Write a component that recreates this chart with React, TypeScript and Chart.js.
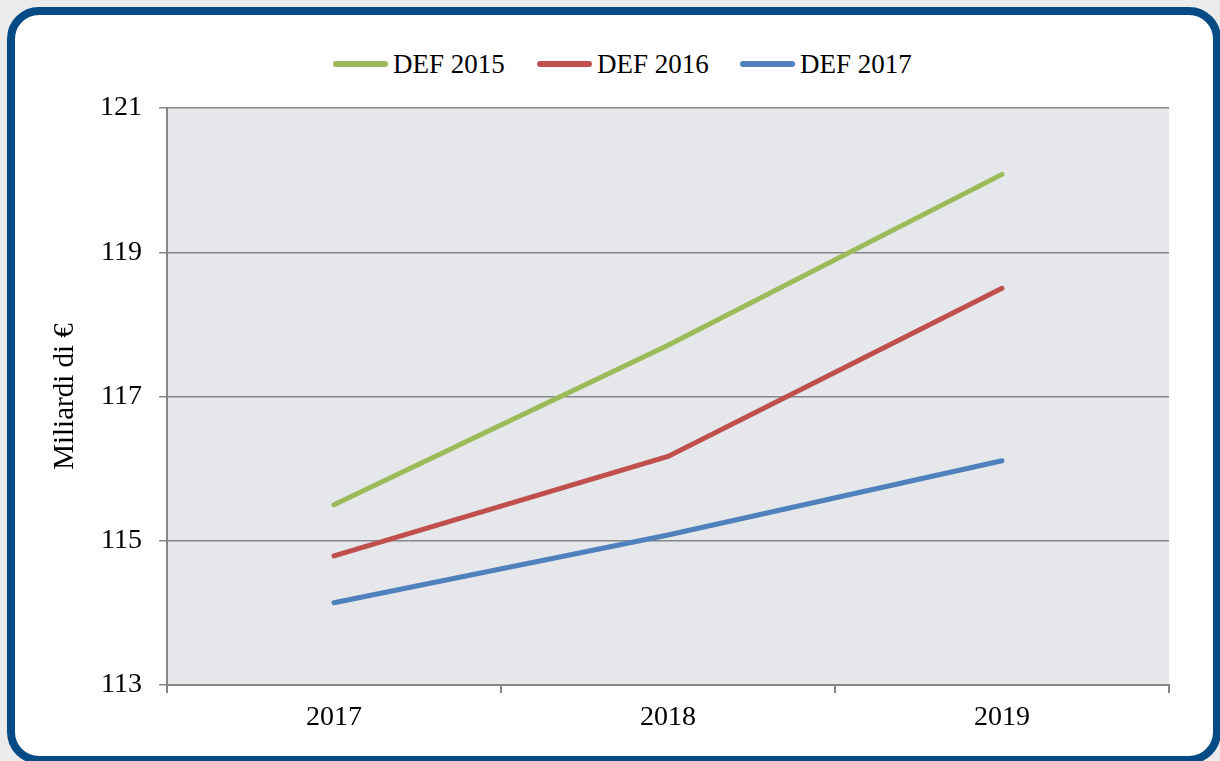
import React, { useEffect, useRef } from "react";
import { Chart, registerables } from "chart.js";

Chart.register(...registerables);

const categories = ["2017", "2018", "2019"];
const def2015 = [115.5, 117.71, 120.08];
const def2016 = [114.79, 116.17, 118.5];
const def2017 = [114.14, 115.08, 116.11];
const seriesNames = ["DEF 2015", "DEF 2016", "DEF 2017"];
const seriesColors = ["#9bbb59", "#c0504d", "#4f81bd"];
const yTicks = [113, 115, 117, 119, 121];

const FONT = "'Liberation Serif', 'Times New Roman', serif";

const plotBg = {
  id: "plotBg",
  beforeDraw(chart: any) {
    const { ctx, chartArea } = chart;
    ctx.save();
    ctx.fillStyle = "#e6e7eb";
    ctx.fillRect(chartArea.left, chartArea.top, chartArea.right - chartArea.left, chartArea.bottom - chartArea.top);
    ctx.restore();
  },
};

export default function App() {
  const ref = useRef<HTMLCanvasElement>(null);

  useEffect(() => {
    if (!ref.current) return;
    const data = [def2015, def2016, def2017];
    const chart = new Chart(ref.current, {
      type: "line",
      data: {
        labels: categories,
        datasets: seriesNames.map((n, i) => ({
          label: n,
          data: data[i],
          borderColor: seriesColors[i],
          backgroundColor: seriesColors[i],
          borderWidth: 5,
          pointRadius: 0,
          tension: 0,
          borderCapStyle: "round" as const,
        })),
      },
      plugins: [plotBg],
      options: {
        responsive: false,
        animation: false,
        layout: { padding: { left: 0, top: 108, right: 51, bottom: 0 } },
        plugins: {
          legend: { display: false },
          tooltip: { enabled: false },
        },
        scales: {
          x: {
            offset: true,
            afterFit: (s: any) => {
              s.height = 76;
            },
            grid: {
              offset: true,
              drawOnChartArea: false,
              drawTicks: true,
              tickLength: 8,
              color: "#868686",
              lineWidth: 2,
            },
            border: { display: true, color: "#868686", width: 2 },
            ticks: {
              color: "#000",
              font: { family: FONT, size: 28 },
              padding: 8,
              maxRotation: 0,
            },
          },
          y: {
            min: 113,
            max: 121,
            afterFit: (s: any) => {
              s.width = 167;
            },
            afterBuildTicks: (s: any) => {
              s.ticks = yTicks.map((v) => ({ value: v }));
            },
            grid: {
              drawTicks: true,
              tickLength: 8,
              color: "#868686",
              lineWidth: 1.5,
            },
            border: { display: true, color: "#868686", width: 2 },
            ticks: {
              color: "#000",
              font: { family: FONT, size: 28 },
              padding: 17,
            },
            title: {
              display: true,
              text: "Miliardi di €",
              color: "#000",
              font: { family: FONT, size: 29 },
              padding: { top: 48, bottom: 0 },
            },
          },
        },
      },
    });
    return () => chart.destroy();
  }, []);

  const legendX = [333, 537, 740];

  return (
    <div style={{ position: "fixed", left: 0, top: 0, width: 1220, height: 761, overflow: "hidden", background: "#ebebeb" }}>
      <div
        style={{
          position: "absolute",
          left: 7,
          top: 7,
          width: 1214,
          height: 757,
          boxSizing: "border-box",
          border: "8px solid #044a84",
          borderRadius: 32,
          background: "#fff",
        }}
      />
      {seriesNames.map((n, i) => (
        <div
          key={n}
          style={{
            position: "absolute",
            left: legendX[i],
            top: 47,
            height: 34,
            display: "flex",
            alignItems: "center",
            fontFamily: FONT,
            fontSize: 27,
            color: "#000",
            whiteSpace: "nowrap",
          }}
        >
          <span style={{ display: "inline-block", width: 55, height: 6, borderRadius: 3, background: seriesColors[i], marginRight: 5 }} />
          <span>{n}</span>
        </div>
      ))}
      <canvas ref={ref} width={1220} height={761} style={{ position: "absolute", left: 0, top: 0, width: 1220, height: 761 }} />
    </div>
  );
}
